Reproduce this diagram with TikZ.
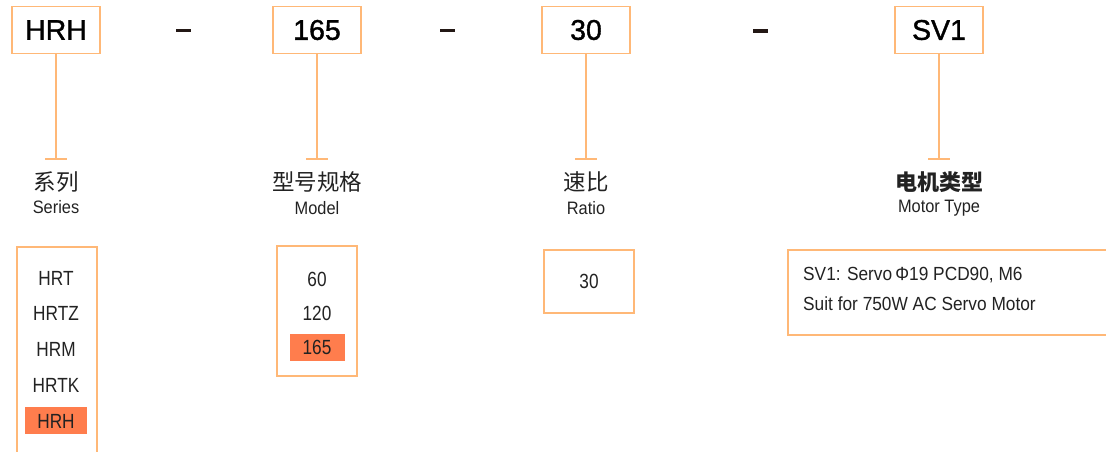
\documentclass[tikz,border=0pt]{standalone}
\usepackage{fontspec}
\setmainfont{Liberation Sans}
\newfontfamily\narrowf[FakeStretch=0.84]{Liberation Sans}
\newfontfamily\midf[FakeStretch=0.91]{Liberation Sans}
\newfontfamily\topf[FakeBold=1.3]{Liberation Sans}
\newfontfamily\cjk{Noto Sans CJK SC}
\definecolor{boxor}{HTML}{FFB877}
\definecolor{hilite}{HTML}{FF7D4D}
\definecolor{txt}{HTML}{222222}
\definecolor{dashc}{HTML}{231815}
\begin{document}
\begin{tikzpicture}[x=1pt,y=-1pt,
  topbox/.style={draw=boxor,line width=1.6pt,minimum width=88pt,minimum height=47pt,inner sep=0pt,
     font=\topf\fontsize{28.5}{30}\selectfont,text=black},
  conn/.style={draw=boxor,line width=1.6pt},
  cnlabel/.style={font=\cjk\fontsize{22.5}{24}\selectfont,text=txt},
  enlabel/.style={font=\midf\fontsize{18}{20}\selectfont,text=txt},
  optbox/.style={draw=boxor,line width=1.6pt,inner sep=0pt},
  item/.style={font=\narrowf\fontsize{20.5}{22}\selectfont,text=txt,inner sep=0pt},
  desc/.style={font=\midf\fontsize{19}{21}\selectfont,text=txt,inner sep=0pt,anchor=west},
  hl/.style={fill=hilite,inner sep=0pt},
  dashline/.style={draw=dashc,line width=3.5pt}]
\path[use as bounding box] (0,0) rectangle (1106,451);

% top boxes
\node[topbox] (t1) at (56,30) {HRH};
\node[topbox] (t2) at (317,30) {165};
\node[topbox] (t3) at (586,30) {30};
\node[topbox] (t4) at (939,30) {SV1};

% dashes
\coordinate (d1a) at (176,30.5); \coordinate (d1b) at (191,30.5);
\coordinate (d2a) at (440,30.5); \coordinate (d2b) at (455,30.5);
\coordinate (d3a) at (753,31); \coordinate (d3b) at (768,31);
\draw[dashline] (d1a) -- (d1b);
\draw[dashline] (d2a) -- (d2b);
\draw[dashline] (d3a) -- (d3b);

% connectors with T bars
\foreach \n/\x in {1/56,2/317,3/586,4/939}{
  \coordinate (e\n) at (\x,159);
  \coordinate (bl\n) at (\x-11,159);
  \coordinate (br\n) at (\x+11,159);
  \draw[conn] (t\n.south) -- (e\n);
  \draw[conn] (bl\n) -- (br\n);
}

% labels
\node[cnlabel] (c1) at (56,182) {系列};
\node[enlabel] (l1) at (56,207) {Series};
\node[cnlabel] (c2) at (317,182) {型号规格};
\node[enlabel] (l2) at (317,208) {Model};
\node[cnlabel] (c3) at (586,182) {速比};
\node[enlabel] (l3) at (586,208) {Ratio};
\node[cnlabel,font=\cjk\bfseries\fontsize{22}{24}\selectfont] (c4) at (939,182) {电机类型};
\node[enlabel] (l4) at (939,208) {Motor Type};

% series option box (open at bottom)
\coordinate (s1) at (17,470); \coordinate (s2) at (17,247);
\coordinate (s3) at (97,247); \coordinate (s4) at (97,470);
\draw[conn] (s1) -- (s2) -- (s3) -- (s4);
\node[hl,minimum width=62pt,minimum height=27pt] (h1) at (56,420.5) {};
\node[item] (i1) at (56,278) {HRT};
\node[item] (i2) at (56,313) {HRTZ};
\node[item] (i3) at (56,349) {HRM};
\node[item] (i4) at (56,385) {HRTK};
\node[item] (i5) at (56,421) {HRH};

% model option box
\node[optbox,minimum width=80pt,minimum height=130pt] (m) at (317,311) {};
\node[hl,minimum width=55pt,minimum height=27pt] (h2) at (317.5,347.5) {};
\node[item] (j1) at (317,279) {60};
\node[item] (j2) at (317,313) {120};
\node[item] (j3) at (317,347) {165};

% ratio box
\node[optbox,minimum width=90pt,minimum height=63pt] (r) at (589,281.5) {};
\node[item] (k1) at (589,281.5) {30};

% motor box (open at right)
\coordinate (q1) at (1120,250); \coordinate (q2) at (788,250);
\coordinate (q3) at (788,335); \coordinate (q4) at (1120,335);
\draw[conn] (q1) -- (q2) -- (q3) -- (q4);
\node[desc] (p1) at (803,275) {SV1: Servo\,Φ19 PCD90, M6};
\node[desc] (p2) at (803,304) {Suit for 750W AC Servo Motor};
\end{tikzpicture}
\end{document}
